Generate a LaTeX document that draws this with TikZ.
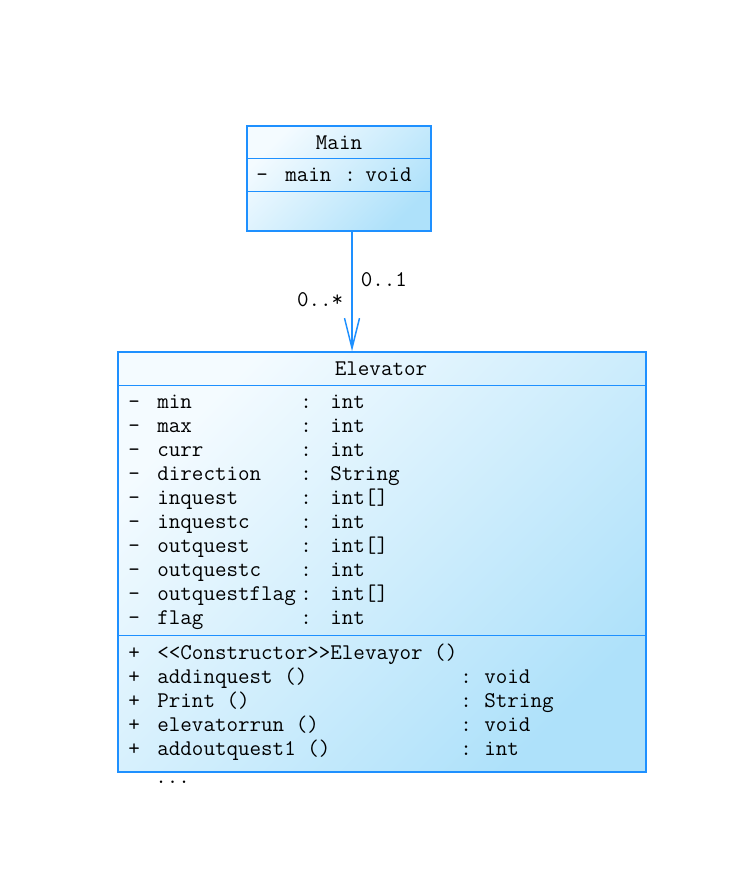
\documentclass[tikz,border=0pt]{standalone}
\usepackage{fontspec}
\usetikzlibrary{arrows.meta}
\definecolor{umlblue}{RGB}{30,144,255}
\definecolor{umllight}{RGB}{244,251,255}
\definecolor{umldark}{RGB}{174,225,250}
\tikzset{
	classbox/.style = {rectangle, draw=umlblue, line width=0.75pt, inner sep=0pt, top color=umllight, bottom color=umldark, shading angle=45},
	umltext/.style = {inner sep=0pt, font=\ttfamily\fontsize{11.2}{12}\selectfont},
	sepline/.style = {draw=umlblue, line width=0.75pt},
	assoc/.style = {draw=umlblue, line width=0.75pt, -{Straight Barb[length=15pt, width=7.5pt]}}
}
\begin{document}
\begin{tikzpicture}[x=0.5pt, y=-0.5pt]
		\useasboundingbox (0,0) rectangle (742,874);
		% class boxes
		\node (main) [classbox, minimum width=92pt, minimum height=52.5pt] at (339,178.5) {};
		\node (elevator) [classbox, minimum width=264pt, minimum height=210pt] at (382,562) {};
		\draw [sepline] ([yshift=-16.5pt]main.north west) -- ([yshift=-16.5pt]main.north east);
		\draw [sepline] ([yshift=-33pt]main.north west) -- ([yshift=-33pt]main.north east);
		\draw [sepline] ([yshift=-17pt]elevator.north west) -- ([yshift=-17pt]elevator.north east);
		\draw [sepline] ([yshift=-142pt]elevator.north west) -- ([yshift=-142pt]elevator.north east);

		% texts
		\node (main_title) [umltext] at (339,143) {Main};
		\node (main_attr) [umltext, anchor=north west] at (256,164) {%
			\begin{tabular}{@{}p{14.5pt}@{}p{29.5pt}@{}p{10.5pt}@{}l@{}}
			- & main & : & void
			\end{tabular}};
		\node (elevator_title) [umltext] at (381,369) {Elevator};
		\node (elevator_attr) [umltext, anchor=north west] at (128,391) {%
			\begin{tabular}{@{}p{14.5pt}@{}p{71.5pt}@{}p{15pt}@{}l@{}}
			- & min & : & int\\
			- & max & : & int\\
			- & curr & : & int\\
			- & direction & : & String\\
			- & inquest & : & int[]\\
			- & inquestc & : & int\\
			- & outquest & : & int[]\\
			- & outquestc & : & int\\
			- & outquestflag & : & int[]\\
			- & flag & : & int
			\end{tabular}};
		\node (elevator_ops) [umltext, anchor=north west] at (128,642) {%
			\begin{tabular}{@{}p{14.5pt}@{}p{151.5pt}@{}p{12pt}@{}l@{}}
			+ & \multicolumn{3}{@{}l@{}}{<{}<Constructor>{}>Elevayor ()}\\
			+ & addinquest () & : & void\\
			+ & Print () & : & String\\
			+ & elevatorrun () & : & void\\
			+ & addoutquest1 () & : & int
			\end{tabular}};
		\node (more) [umltext, anchor=west] at (155,782) {...};

		% association
		\draw [assoc] ([xshift=6.5pt]main.south) -- ([xshift=6.5pt]main.south |- elevator.north)
			node [umltext, pos=0.405, anchor=west, xshift=4pt] {0..1}
			node [umltext, pos=0.57, anchor=east, xshift=-4pt] {0..*};
\end{tikzpicture}
\end{document}
